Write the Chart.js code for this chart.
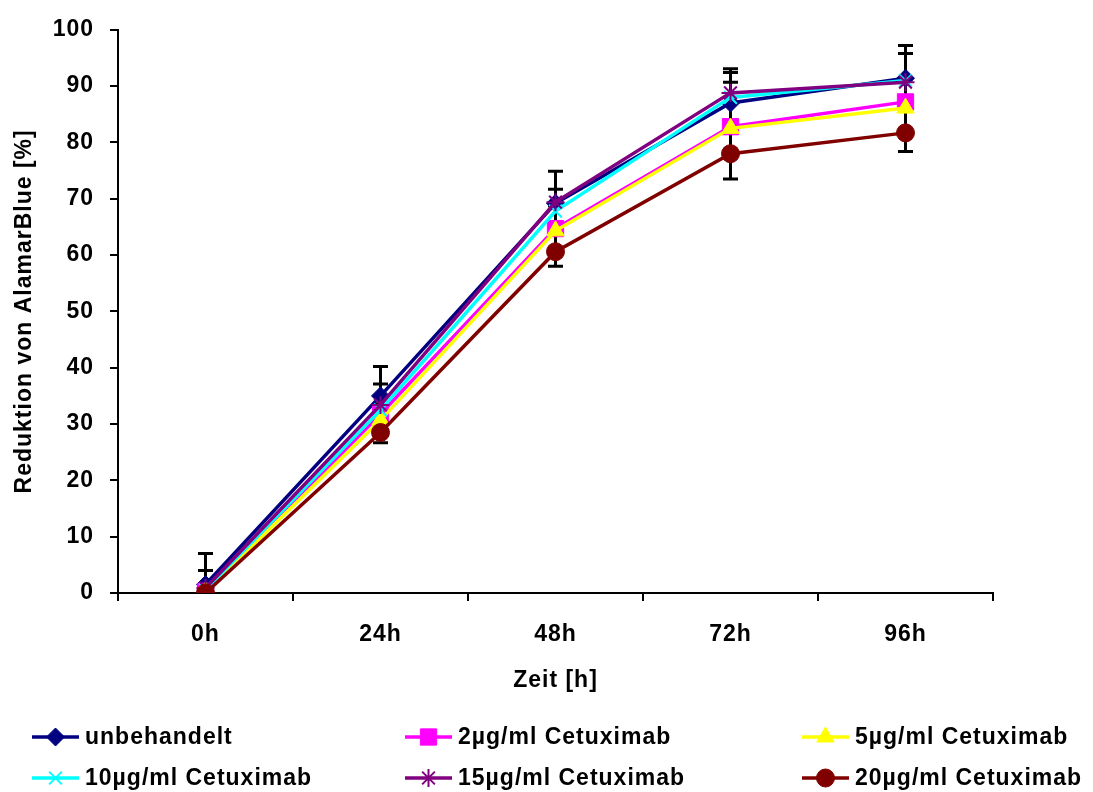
<!DOCTYPE html>
<html>
<head>
<meta charset="utf-8">
<script src="https://cdn.jsdelivr.net/npm/chart.js@4/dist/chart.umd.min.js"></script>
<style>
  html, body { margin: 0; padding: 0; background: #fff; }
  #wrap { width: 1093px; height: 792px; }
</style>
</head>
<body>
<div id="wrap"><canvas id="c" width="1093" height="792"></canvas></div>
<script>
// Time points
const categories = ['0h', '24h', '48h', '72h', '96h'];

// Series names
const seriesNames = ['unbehandelt', '2µg/ml Cetuximab', '5µg/ml Cetuximab',
                     '10µg/ml Cetuximab', '15µg/ml Cetuximab', '20µg/ml Cetuximab'];

// AlamarBlue reduction [%] per series
const unbehandelt = [1.5, 35.0, 69.2, 87.0, 91.4];
const cetux2  = [0.3, 31.8, 64.7, 82.8, 87.2];
const cetux5  = [0.2, 30.7, 64.3, 82.5, 86.1];
const cetux10 = [0.6, 32.5, 67.8, 88.0, 91.0];
const cetux15 = [0.9, 33.4, 69.4, 88.8, 90.7];
const cetux20 = [0.0, 28.5, 60.6, 78.0, 81.7];

// Error bar extents (upper / lower)
const errPlusUnbeh   = [5.5, 5.2, 5.7, 6.1, 5.8];
const errMinusUnbeh  = [0, 3.0, 4.5, 4.2, 4.2];
const errPlus10      = [0.5, 1.0, 1.0, 2.7, 0.3];
const errPlus15      = [3.1, 3.7, 2.3, 3.6, 5.1];
const errMinus5      = [0, 2.0, 3.7, 4.5, 4.4];
const errMinus20     = [0, 1.8, 2.6, 4.5, 3.3];

// Y axis ticks
const yTicks = [0, 10, 20, 30, 40, 50, 60, 70, 80, 90, 100];

const FONT = '"Liberation Sans", Arial, sans-serif';
const FSIZE = 23;
const SPACING = '1px';

Chart.defaults.font.family = FONT;
Chart.defaults.font.size = FSIZE;
Chart.defaults.font.weight = 'bold';
Chart.defaults.color = '#000';

function ds(label, data, color, style, radius, order, errPlus, errMinus) {
  return {
    label, data,
    borderColor: color, backgroundColor: color,
    pointBackgroundColor: color, pointBorderColor: color,
    pointStyle: style, pointRadius: radius, pointHoverRadius: radius,
    pointBorderWidth: (style === 'crossRot' || style === 'star') ? 2 : 1,
    borderWidth: 3.5, tension: 0, order,
    errPlus: errPlus || null, errMinus: errMinus || null
  };
}

const datasets = [
  ds(seriesNames[0], unbehandelt, '#000080', 'rectRot', 9, 6, errPlusUnbeh, errMinusUnbeh),
  ds(seriesNames[1], cetux2, '#FF00FF', 'rect', 11.5, 5),
  ds(seriesNames[2], cetux5, '#FFFF00', 'triangle', 10, 4, null, errMinus5),
  ds(seriesNames[3], cetux10, '#00FFFF', 'crossRot', 9, 3, errPlus10, null),
  ds(seriesNames[4], cetux15, '#800080', 'star', 9, 2, errPlus15, null),
  ds(seriesNames[5], cetux20, '#800000', 'circle', 9, 1, null, errMinus20)
];

// Keep canvas text slightly tracked, as in the rest of the figure
const spacingPlugin = {
  id: 'spacing',
  beforeLayout(chart) { chart.ctx.letterSpacing = SPACING; },
  beforeDraw(chart) { chart.ctx.letterSpacing = SPACING; }
};

// Vertical error bars with caps, drawn beneath the series
const errorBars = {
  id: 'errorBars',
  beforeDatasetsDraw(chart) {
    const ctx = chart.ctx;
    const y = chart.scales.y;
    ctx.save();
    ctx.strokeStyle = '#000';
    ctx.lineWidth = 3;
    const cap = 7.5;
    chart.data.datasets.forEach((d, i) => {
      const meta = chart.getDatasetMeta(i);
      d.data.forEach((v, j) => {
        const px = meta.data[j].x;
        const py = y.getPixelForValue(v);
        [[d.errPlus, 1], [d.errMinus, -1]].forEach(([arr, sgn]) => {
          if (!arr || !arr[j]) return;
          const ey = y.getPixelForValue(v + sgn * arr[j]);
          ctx.beginPath();
          ctx.moveTo(px, py); ctx.lineTo(px, ey);
          ctx.moveTo(px - cap, ey); ctx.lineTo(px + cap, ey);
          ctx.stroke();
        });
      });
    });
    ctx.restore();
  }
};

// Legend: line with marker, two rows of three
const lineLegend = {
  id: 'lineLegend',
  afterDraw(chart) {
    const ctx = chart.ctx;
    const colX = [32, 405, 802];
    const rowY = [737, 778];
    const len = 47;
    ctx.save();
    ctx.letterSpacing = SPACING;
    ctx.font = 'bold ' + FSIZE + 'px ' + FONT;
    ctx.textBaseline = 'middle';
    ctx.textAlign = 'left';
    chart.data.datasets.forEach((d, i) => {
      const x0 = colX[i % 3];
      const yy = rowY[Math.floor(i / 3)];
      ctx.strokeStyle = d.borderColor;
      ctx.lineWidth = 3.5;
      ctx.beginPath();
      ctx.moveTo(x0, yy); ctx.lineTo(x0 + len, yy);
      ctx.stroke();
      ctx.fillStyle = d.pointBackgroundColor;
      ctx.strokeStyle = d.pointBorderColor;
      ctx.lineWidth = d.pointBorderWidth;
      Chart.helpers.drawPoint(ctx, { pointStyle: d.pointStyle, radius: d.pointRadius, borderWidth: d.pointBorderWidth, rotation: 0 }, x0 + len / 2, yy);
      ctx.fillStyle = '#000';
      ctx.fillText(d.label, x0 + len + 6, yy + 1);
    });
    ctx.restore();
  }
};

new Chart(document.getElementById('c'), {
  type: 'line',
  data: { labels: categories, datasets },
  options: {
    responsive: false,
    animation: false,
    events: [],
    layout: { padding: { top: 24, right: 100, bottom: 98, left: 0 } },
    plugins: { legend: { display: false }, tooltip: { enabled: false } },
    scales: {
      x: {
        offset: true,
        grid: { display: true, drawOnChartArea: false, drawTicks: true, tickLength: 8, color: '#000', lineWidth: 2, offset: true },
        border: { display: true, color: '#000', width: 2 },
        ticks: { padding: 20, color: '#000', font: { size: FSIZE, weight: 'bold' } },
        title: { display: true, text: 'Zeit [h]', color: '#000', font: { size: FSIZE, weight: 'bold' }, padding: { top: 0, bottom: 0 } },
        afterFit(scale) { scale.height = 101; }
      },
      y: {
        min: 0, max: 100,
        afterBuildTicks(scale) { scale.ticks = yTicks.map(v => ({ value: v })); },
        grid: { display: true, drawOnChartArea: false, drawTicks: true, tickLength: 8, color: '#000', lineWidth: 2 },
        border: { display: true, color: '#000', width: 2 },
        ticks: { padding: 16, color: '#000', font: { size: FSIZE, weight: 'bold' } },
        title: { display: true, text: 'Reduktion von AlamarBlue [%]', color: '#000', font: { size: FSIZE, weight: 'bold' }, padding: { top: 11, bottom: 0 } },
        afterFit(scale) { scale.width = 118; }
      }
    }
  },
  plugins: [spacingPlugin, errorBars, lineLegend]
});
</script>
</body>
</html>
